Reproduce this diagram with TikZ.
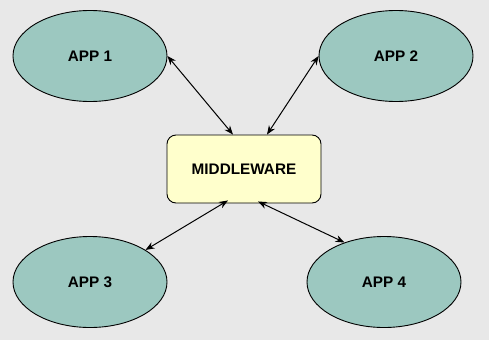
\documentclass[tikz,border=0pt]{standalone}
\usepackage{fontspec}
\setmainfont{Liberation Sans}
\usetikzlibrary{arrows.meta,shapes.geometric}
\definecolor{bggray}{HTML}{E8E8E8}
\definecolor{appteal}{HTML}{9CC8C0}
\definecolor{mwyellow}{HTML}{FFFFCC}

\begin{document}
\begin{tikzpicture}[x=1pt, y=-1pt,
  app/.style={ellipse, draw=black, line width=0.9pt, fill=appteal,
    minimum width=154pt, minimum height=91pt, inner sep=0pt,
    font=\fontsize{15.3}{17}\selectfont\bfseries},
  mware/.style={rectangle, rounded corners=9pt, draw=black, line width=0.9pt,
    fill=mwyellow, minimum width=154pt, minimum height=68pt, inner sep=0pt,
    font=\fontsize{15.3}{17}\selectfont\bfseries},
  link/.style={{Stealth[length=9pt,width=7pt]}-{Stealth[length=9pt,width=7pt]}, line width=1pt}]
% === Background ===
\fill[bggray] (0,0) rectangle (489,340);
\useasboundingbox (0,0) rectangle (489,340);

% === Nodes ===
\node[mware] (mw) at (244,169) {MIDDLEWARE};
\node[app] (app1) at (90,56) {APP 1};
\node[app] (app2) at (396,56) {APP 2};
\node[app] (app3) at (90,282) {APP 3};
\node[app] (app4) at (384,282) {APP 4};

% === Links ===
\draw[link] (app1.east) -- ([xshift=-11pt]mw.north);
\draw[link] (app2.west) -- ([xshift=23pt]mw.north);
\draw[link] (app3.30) -- ([xshift=-16pt, yshift=3pt]mw.south);
\draw[link] ([xshift=14pt, yshift=2pt]mw.south) -- (app4.135);
\end{tikzpicture}
\end{document}
